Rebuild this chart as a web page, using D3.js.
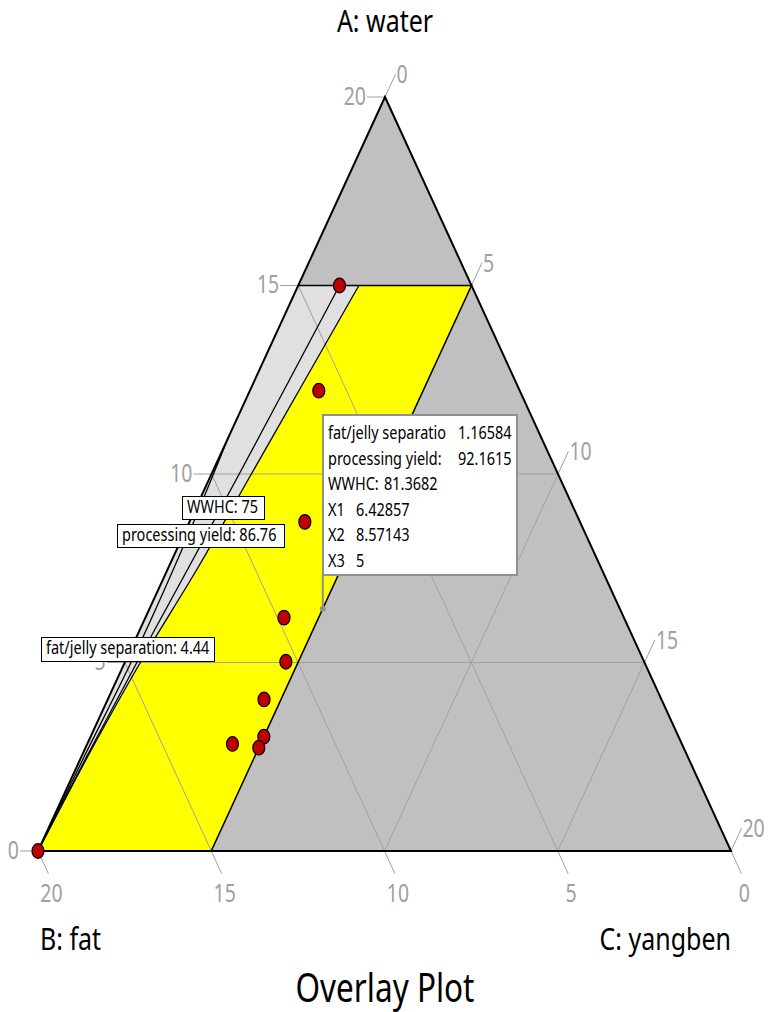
<!DOCTYPE html>
<html>
<head>
<meta charset="utf-8">
<script src="https://cdn.jsdelivr.net/npm/d3@7"></script>
<style>
  body { margin: 0; background: #fff; }
  text { font-family: "Noto Sans", "Open Sans", sans-serif; }
</style>
</head>
<body>
<div id="chart"></div>
<script>
// design points, A = water, C = yangben (B = fat = 20 - A - C)
var pointA = [15, 12.21, 8.73, 6.19, 5.02, 4.02, 3.03, 2.74, 2.84, 0];
var pointC = [1.19, 1.99, 3.33, 4.0, 4.64, 4.51, 5.0, 5.0, 4.19, 0];

var ticks = [0, 5, 10, 15, 20];
var gridVals = [5, 10, 15];

// design space constraints: A <= 15, C <= 5
var designA = [15, 15, 0, 0];
var designC = [0, 5, 5, 0];

// contour lines (A, C pairs along each line)
var wwhcA = [15, 12.5, 10, 7.5, 5, 2.5, 0];
var wwhcC = [1.19, 1.0, 0.8, 0.58, 0.35, 0.15, 0];
var yieldA = [15, 12.5, 10, 7.5, 5, 2.5, 0];
var yieldC = [1.75, 1.45, 1.15, 0.85, 0.45, 0.18, 0];
var fatA = [11, 8, 5, 2.5, 0];
var fatC = [0, 0.15, 0.18, 0.08, 0];

var flagText = ["WWHC: 75", "processing yield: 86.76", "fat/jelly separation: 4.44"];

var tipNames = ["fat/jelly separatio", "processing yield:", "WWHC:", "X1", "X2", "X3"];
var tipValues = ["1.16584", "92.1615", "81.3682", "6.42857", "8.57143", "5"];
var tipPointA = 6.42857, tipPointC = 5;

var svgWidth = 770, svgHeight = 1012;
var left = {x: 38, y: 851}, top_ = {x: 385, y: 97}, right = {x: 731, y: 851};
var sy = 1.26; // vertical stretch of the text

var svg = d3.select("#chart").append("svg")
  .attr("width", svgWidth)
  .attr("height", svgHeight);

// scales
var cScale = d3.scaleLinear().domain([0, 20]).range([0, right.x - left.x]);
var aScaleX = d3.scaleLinear().domain([0, 20]).range([0, top_.x - left.x]);
var aScaleY = d3.scaleLinear().domain([0, 20]).range([left.y, top_.y]);

function px(a, c) { return left.x + cScale(c) + aScaleX(a); }
function py(a) { return aScaleY(a); }
function pt(a, c) { return [px(a, c), py(a)]; }

var line = d3.line();

function stretchText(g, x, y, str, size, anchor, color) {
  return g.append("text")
    .attr("transform", `translate(${x},${y}) scale(1,${sy})`)
    .attr("text-anchor", anchor)
    .attr("font-size", size)
    .attr("fill", color)
    .text(str);
}

// whole triangle, outside constraints
svg.append("path")
  .attr("d", line([pt(20, 0), pt(0, 20), pt(0, 0)]) + "Z")
  .attr("fill", "#c0c0c0");

// design space
svg.append("path")
  .attr("d", line(designA.map((a, i) => pt(a, designC[i]))) + "Z")
  .attr("fill", "#e0e0e0");

// sweet spot
var yellowPts = yieldA.map((a, i) => pt(a, yieldC[i]));
yellowPts.push(pt(0, 5), pt(15, 5));
svg.append("path")
  .attr("d", line(yellowPts) + "Z")
  .attr("fill", "#ffff00");

// grid lines and ticks
var grid = svg.append("g").attr("stroke", "#a0a0a0").attr("stroke-width", 1);
gridVals.forEach(function(k) {
  grid.append("path").attr("d", line([pt(k, 0), pt(k, 20 - k)]));
  grid.append("path").attr("d", line([pt(0, k), pt(20 - k, k)]));
  grid.append("path").attr("d", line([pt(20 - k, 0), pt(0, 20 - k)]));
});

var tl = 25;
var ux = (top_.x - left.x), uy = (top_.y - left.y);
var ulen = Math.sqrt(ux * ux + uy * uy);
ux /= ulen; uy /= ulen;
var bx = (right.x - top_.x), by = (right.y - top_.y);
var blen = Math.sqrt(bx * bx + by * by);
bx /= blen; by /= blen;

var tickG = svg.append("g");
ticks.forEach(function(k) {
  // A axis (left, horizontal ticks)
  var p = pt(k, 0);
  tickG.append("line")
    .attr("x1", p[0]).attr("y1", p[1]).attr("x2", p[0] - 18).attr("y2", p[1])
    .attr("stroke", "#a0a0a0");
  stretchText(tickG, p[0] - 19, p[1] + 7.5, k, 19.5, "end", "#a0a0a0");

  // C axis (right edge, ticks up-right)
  var q = pt(20 - k, k);
  var qe = [q[0] + ux * tl, q[1] + uy * tl];
  tickG.append("line")
    .attr("x1", q[0]).attr("y1", q[1]).attr("x2", qe[0]).attr("y2", qe[1])
    .attr("stroke", "#a0a0a0");
  stretchText(tickG, qe[0] + 1, qe[1] + 9, k, 19.5, "start", "#a0a0a0");

  // B axis (bottom, ticks down-right)
  var r = pt(0, 20 - k);
  var re = [r[0] + bx * tl, r[1] + by * tl];
  tickG.append("line")
    .attr("x1", r[0]).attr("y1", r[1]).attr("x2", re[0]).attr("y2", re[1])
    .attr("stroke", "#a0a0a0");
  stretchText(tickG, re[0] + 3, re[1] + 28, k, 19.5, "middle", "#a0a0a0");
});

// contour lines
[[wwhcA, wwhcC], [yieldA, yieldC], [fatA, fatC]].forEach(function(cl) {
  svg.append("path")
    .attr("d", d3.line().curve(d3.curveMonotoneY)(cl[0].map((a, i) => pt(a, cl[1][i]))))
    .attr("fill", "none")
    .attr("stroke", "#000")
    .attr("stroke-width", 1.3);
});

// design boundary
svg.append("path")
  .attr("d", line([pt(15, 0), pt(15, 5), pt(0, 5)]))
  .attr("fill", "none")
  .attr("stroke", "#000")
  .attr("stroke-width", 1.5);

// triangle outline
svg.append("path")
  .attr("d", line([pt(20, 0), pt(0, 20), pt(0, 0)]) + "Z")
  .attr("fill", "none")
  .attr("stroke", "#000")
  .attr("stroke-width", 2);

// design points
svg.selectAll("ellipse.pt")
  .data(pointA)
  .enter()
  .append("ellipse")
  .attr("class", "pt")
  .attr("cx", (d, i) => px(d, pointC[i]))
  .attr("cy", d => py(d))
  .attr("rx", 6)
  .attr("ry", 7.3)
  .attr("fill", "#c00000")
  .attr("stroke", "#000")
  .attr("stroke-width", 1.2);

// contour flags
var flagBoxes = [[182, 496, 82, 23], [117, 524, 167, 23], [41, 637, 173, 24]];
flagText.forEach(function(t, i) {
  var b = flagBoxes[i];
  svg.append("rect")
    .attr("x", b[0] + 0.5).attr("y", b[1] + 0.5)
    .attr("width", b[2]).attr("height", b[3])
    .attr("fill", "#fff").attr("stroke", "#000").attr("stroke-width", 1);
  stretchText(svg, b[0] + 5, b[1] + 17, t, 14.5, "start", "#000");
});

// tooltip
var tip = pt(tipPointA, tipPointC);
svg.append("line")
  .attr("x1", tip[0]).attr("y1", 575).attr("x2", tip[0]).attr("y2", tip[1])
  .attr("stroke", "#909090").attr("stroke-width", 2);
svg.append("circle")
  .attr("cx", tip[0]).attr("cy", tip[1]).attr("r", 3)
  .attr("fill", "#909090");
svg.append("rect")
  .attr("x", 323).attr("y", 415).attr("width", 194).attr("height", 160)
  .attr("fill", "#fff").attr("stroke", "#909090").attr("stroke-width", 2);
var valX = [458, 458, 384, 356, 356, 356];
tipNames.forEach(function(n, i) {
  var yy = 439 + i * 25.5;
  stretchText(svg, 328, yy, n, 14.5, "start", "#000");
  stretchText(svg, valX[i], yy, tipValues[i], 14.5, "start", "#000");
});

// axis titles
stretchText(svg, 385, 32, "A: water", 25, "middle", "#000");
stretchText(svg, 40, 950, "B: fat", 25, "start", "#000");
stretchText(svg, 731, 950, "C: yangben", 25, "end", "#000");
stretchText(svg, 385, 1002, "Overlay Plot", 31.5, "middle", "#000");
</script>
</body>
</html>
